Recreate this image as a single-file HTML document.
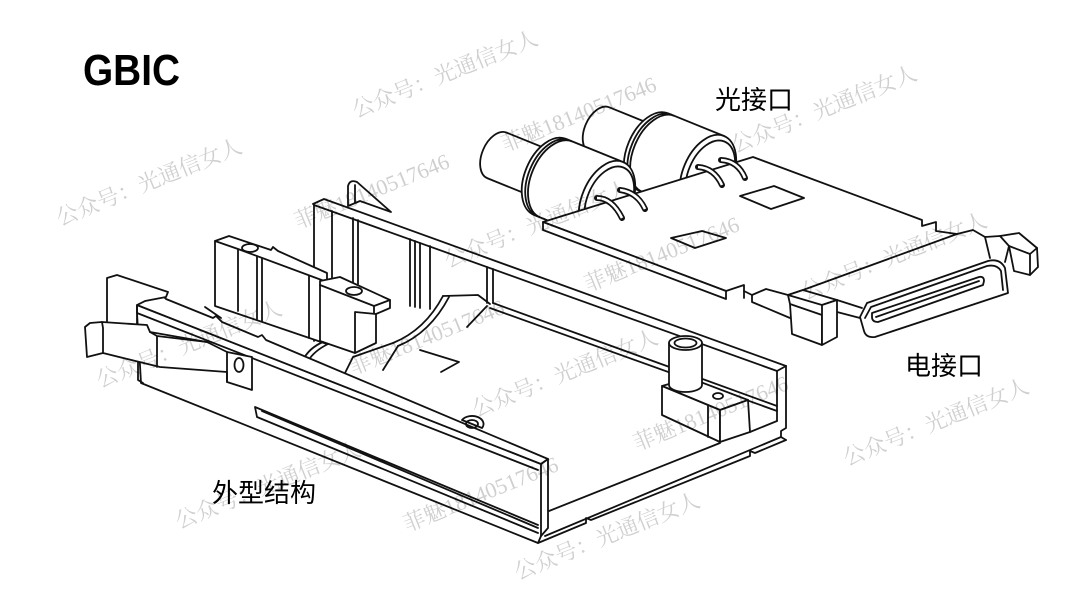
<!DOCTYPE html>
<html><head><meta charset="utf-8"><style>
html,body{margin:0;padding:0;background:#fff;}
svg{display:block;}
.cyl *{vector-effect:non-scaling-stroke;}
</style></head><body>
<svg width="1080" height="607" viewBox="0 0 1080 607" xmlns="http://www.w3.org/2000/svg">
<rect width="1080" height="607" fill="#fff"/>

<text x="83" y="85" font-family="Liberation Sans, sans-serif" font-weight="bold" font-size="44" textLength="97" lengthAdjust="spacingAndGlyphs" fill="#000">GBIC</text>

<g fill="none" stroke="#111" stroke-width="1.8" stroke-linejoin="round" stroke-linecap="round">
<!-- ===== HOUSING ===== -->
<!-- back wall -->
<path d="M313,204 L324,199 L786,366"/>
<path d="M314,205 L777,371"/>
<path d="M314,205 V341"/>
<path d="M332,211 V282 M353,218 V283 M358,220 V284 M410,239 V306 M415,241 V307 M420,243 V308 M430,246 V309 M487,267 V303 M493,269 V303"/>
<path d="M493,303 L777,406"/>
<path d="M490,308 L777,411"/>
<path d="M467,327 L487,306"/>
<path d="M786,366 V428 L781,431 L781,437 L786,440"/>
<path d="M777,371 V421"/>
<path d="M777,371 L786,366"/>
<!-- fin -->
<path fill="#fff" d="M348,206 L348,186 Q350,179 357,182 L391,212 L360,201 Z"/>
<path d="M355,185 L355,203"/>
<!-- block A -->
<path fill="#fff" d="M215,241 L229,236 L271,250 L273,247 L278,251 L327,273 L327,344 L215,306 Z"/>
<path d="M215,241 L238,249 L327,282 M238,249 V311 M257,256 V319 M262,258 V321 M309,276 V338"/>
<ellipse cx="250" cy="248" rx="8" ry="4" fill="#fff"/>
<!-- block B -->
<path fill="#fff" d="M320,281 L340,277 L390,300 L390,308 L376,314 L376,343 L355,353 L320,341 Z"/>
<path d="M320,285 L374,306 L390,300 M374,306 L374,314 M355,312 L376,314 M355,312 V353"/>
<ellipse cx="354" cy="291" rx="8" ry="4" fill="#fff"/>
<!-- arcs and floor bits -->
<path d="M303,360 Q309,348 323,342 M308,361 Q314,351 328,344"/>
<path d="M393,343 Q425,330 443,296 M398,346 Q430,333 449,297"/>
<path d="M443,296 L478,295 L490,304"/>
<path d="M343,377 L353,357 L393,343 M383,370 L398,346"/>
<path d="M420,350 L459,362 L441,372"/>
<path d="M205,307 L221,318"/>
<!-- right post and block -->
<path fill="#fff" d="M662,386 L690,378 L748,400 L720,410 Z"/>
<path fill="#fff" d="M662,386 L720,410 L720,442 L662,415 Z"/>
<path fill="#fff" d="M720,410 L748,400 L750,432 L720,442 Z"/>
<path d="M708,406 V437"/>
<ellipse cx="718" cy="396" rx="5" ry="3"/>
<path fill="#fff" d="M669,343 L669,385 A16.5,7 0 0 0 702,385 L702,343 Z"/>
<ellipse cx="685.5" cy="343" rx="16.5" ry="7" fill="#fff"/>
<ellipse cx="685.5" cy="343" rx="11" ry="4.5"/>
<!-- floor right end -->
<path d="M549,511 L720,443 M750,432 L777,421"/>
<path d="M538,543 L586,523 L586,518 L591,520 L750,456 L750,451 L755,453 L786,440"/>
<path d="M545,536 L781,437"/>
<!-- front wall -->
<path fill="#fff" d="M137,305 L541,464 L541,536 L538,543 L141,383 L137,313 Z"/>
<path fill="#fff" d="M137,305 L145,301 L163,296 L166,299 L213,318 L216,316 L222,322 L258,337 L262,335 L266,340 L548,459 L541,464 Z"/>
<path d="M137,313 L538,470"/>
<path d="M255,407 L538,525 M257,417 L538,533 M255,407 L257,417 M262,411 L538,528"/>
<path d="M541,464 L548,459 L548,528 L541,536"/>
<path fill="#fff" d="M462,420 A10,7 0 0 1 482,428 Z"/>
<ellipse cx="472" cy="424" rx="6" ry="4"/>
<!-- left end post -->
<path fill="#fff" d="M107,330 L107,278 L117,275 L162,290 L168,292 L166,297 L145,301 L137,305 L137,330 Z"/>
<path d="M137,305 L137,313"/>
<path d="M138,357 L138,380 L143,383"/>
<!-- lever -->
<path fill="#fff" d="M87,357 L85,327 L90,323 L102,322 L147,325 L150,332 L207,342 L227,352 L252,357 L252,390 L227,382 L227,372 L160,367 L103,353 Z"/>
<path d="M102,322 L103,328 L103,353 M150,332 L157,336 L157,367 M157,336 L207,342 M227,352 V382"/>
<ellipse cx="239" cy="365" rx="4.5" ry="7"/>
</g>

<!-- ===== OPTICAL CANS ===== -->
<g class="cyl" fill="#fff" stroke="#111" stroke-width="1.8" stroke-linejoin="round">
 <g transform="matrix(23.2,9.4,16,-38,708,174)">
  <path d="M-2.2,0.6 L-4.67,0.6 A0.6,0.6 0 0 1 -4.67,-0.6 L-2.2,-0.6"/>
  <path d="M0,1 L-2.41,1 A1,1 0 0 1 -2.41,-1 L0,-1 Z"/>
  <path fill="none" d="M-2.26,1 A1,1 0 0 1 -2.26,-1 M-2.14,1 A1,1 0 0 1 -2.14,-1"/>
  <circle cx="0" cy="0" r="1"/>
  <circle fill="none" cx="0.1" cy="0" r="0.88"/>
 </g>
 <g transform="matrix(23.2,9.4,16,-38,607,200)">
  <path d="M-2.2,0.6 L-4.74,0.6 A0.6,0.6 0 0 1 -4.74,-0.6 L-2.2,-0.6"/>
  <path d="M0,1 L-2.46,1 A1,1 0 0 1 -2.46,-1 L0,-1 Z"/>
  <path fill="none" d="M-2.31,1 A1,1 0 0 1 -2.31,-1 M-2.19,1 A1,1 0 0 1 -2.19,-1"/>
  <circle cx="0" cy="0" r="1"/>
  <circle fill="none" cx="0.1" cy="0" r="0.88"/>
 </g>
</g>

<!-- ===== BOARD & CONNECTOR ===== -->
<g fill="none" stroke="#111" stroke-width="1.8" stroke-linejoin="round" stroke-linecap="round">
<path fill="#fff" d="M543,222 L753,157 L922,220 L922,226 L936,222 L936,231 L957,234 L803,290 L788,295 L766,289 L752,295 L744,291 L744,285 L726,291 Z"/>
<path fill="#fff" d="M543,222 L543,230 L726,299 L726,291 Z"/>
<path d="M744,291 L744,298 M752,295 L752,302 L790,318"/>
<path d="M671,238 L702,231 L726,238 L695,248 Z"/>
<path d="M740,196 L774,186 L804,198 L771,209 Z"/>
<!-- leads -->
<g stroke="#111" stroke-width="6">
<path d="M597,198 Q612,198 622,218"/>
<path d="M620,190 Q637,192 645,209"/>
<path d="M698,167 Q714,168 722,185"/>
<path d="M721,160 Q738,161 745,178"/>
</g>
<g stroke="#fff" stroke-width="2.6" stroke-linecap="butt">
<path d="M597,198 Q612,198 622,218"/>
<path d="M620,190 Q637,192 645,209"/>
<path d="M698,167 Q714,168 722,185"/>
<path d="M721,160 Q738,161 745,178"/>
</g>
<!-- plate pieces -->
<path d="M957,234 L973,230 L985,237 L1000,236"/>
<path d="M985,237 L990,258"/>
<path d="M837,300 L862,308 M837,312 L860,318"/>
<!-- left block -->
<path fill="#fff" d="M788,295 L803,290 L837,300 L822,305 Z"/>
<path fill="#fff" d="M788,295 L790,304 L822,315 L822,345 L792,334 L790,304"/>
<path fill="#fff" d="M822,305 L837,300 L837,337 L822,345 L822,315 Z"/>
<!-- connector body -->
<path fill="#fff" d="M860,317 L867,303 L988,261 Q1000,258 1005,268 L1008,293 L875,337 Q866,338 864,331 Z"/>
<path d="M865,318 L871,307 L987,266 Q997,264 1001,271 L1003,290"/>
<path fill="#fff" d="M872,313 L979,277 Q984,276 984,281 L983,285 L878,322 Q872,322 872,317 Z"/>
<path d="M876,317 L979,281"/>
<!-- right block -->
<path fill="#fff" d="M1000,236 L1019,233 L1037,248 L1038,267 L1030,275 L1014,271 L1009,246 Z"/>
<path d="M1009,246 L1030,254 L1037,248 M1030,254 L1030,275"/>
<path d="M1005,262 L1009,246"/>
</g>

<!-- ===== LABELS ===== -->
<g font-family="Liberation Sans, 'Noto Sans CJK SC', sans-serif" font-size="26" fill="#000">
<text x="715" y="109">光接口</text>
<text x="905" y="375">电接口</text>
<text x="212" y="502">外型结构</text>
</g>

<!-- ===== WATERMARKS ===== -->
<g font-family="'Liberation Serif', 'Noto Serif CJK SC', serif" font-size="22" fill="#000" fill-opacity="0.19">
<text transform="translate(60,226) rotate(-22)">公众号：光通信女人</text>
<text transform="translate(356,118) rotate(-22)">公众号：光通信女人</text>
<text transform="translate(298,229) rotate(-22)">菲魅18140517646</text>
<text transform="translate(505,152) rotate(-22)">菲魅18140517646</text>
<text transform="translate(735,153) rotate(-22)">公众号：光通信女人</text>
<text transform="translate(448,268) rotate(-22)">公众号：光通信女人</text>
<text transform="translate(588,292) rotate(-22)">菲魅18140517646</text>
<text transform="translate(805,300) rotate(-22)">公众号：光通信女人</text>
<text transform="translate(353,375) rotate(-22)">菲魅18140517646</text>
<text transform="translate(100,388) rotate(-22)">公众号：光通信女人</text>
<text transform="translate(476,417) rotate(-22)">公众号：光通信女人</text>
<text transform="translate(637,451) rotate(-22)">菲魅18140517646</text>
<text transform="translate(847,466) rotate(-22)">公众号：光通信女人</text>
<text transform="translate(179,529) rotate(-22)">公众号：光通信女人</text>
<text transform="translate(407,532) rotate(-22)">菲魅18140517646</text>
<text transform="translate(518,580) rotate(-22)">公众号：光通信女人</text>
</g>
</svg>
</body></html>
